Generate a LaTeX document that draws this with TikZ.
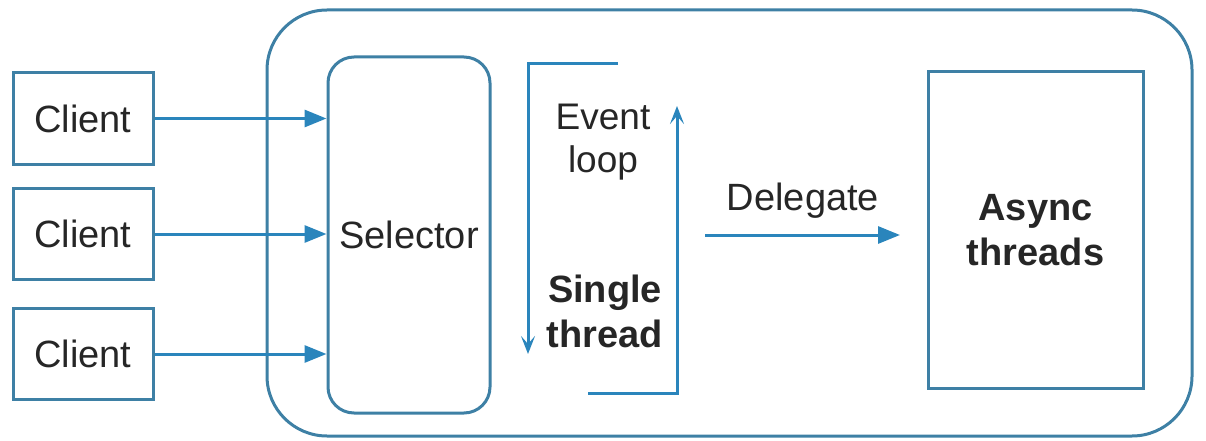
\documentclass[tikz,border=0pt]{standalone}
\usepackage{fontspec}
\setmainfont{Liberation Sans}
\usetikzlibrary{arrows.meta}
\definecolor{boxc}{RGB}{62,128,165}
\definecolor{arrc}{RGB}{42,133,188}
\begin{document}
\begin{tikzpicture}[x=1pt,y=-1pt,
  box/.style={draw=boxc,line width=3pt,inner sep=0pt},
  lbl/.style={font=\fontsize{38}{44}\selectfont,text=black!85,align=center},
  blbl/.style={font=\fontsize{38}{45}\selectfont\bfseries,text=black!85,align=center},
  conn/.style={draw=arrc,line width=3pt,-{Triangle[length=22pt,width=17pt]}},
  loopar/.style={draw=arrc,line width=3pt,-{Stealth[length=18pt,width=14pt,inset=8pt]}}]
\useasboundingbox (0,0) rectangle (1206,441);
% outer rounded container
\draw[boxc,line width=3pt,rounded corners=60pt] (267,10) rectangle (1192,436);
% clients
\node[box,minimum width=140pt,minimum height=91pt,lbl] (c1) at (83,118.5) {Client};
\node[box,minimum width=140pt,minimum height=91pt,lbl] (c2) at (83,234) {Client};
\node[box,minimum width=140pt,minimum height=91pt,lbl] (c3) at (83,354) {Client};
% selector
\node[box,rounded corners=26pt,minimum width=162pt,minimum height=356pt,lbl] (sel) at (409,235) {Selector};
\draw[conn] (c1.east) -- (sel.west |- c1.east);
\draw[conn] (c2.east) -- (sel.west |- c2.east);
\draw[conn] (c3.east) -- (sel.west |- c3.east);
% event loop bracket
\coordinate (ltop) at (618,64);
\coordinate (lcorner) at (528,64);
\coordinate (lend) at (528,354);
\coordinate (rstart) at (588,393);
\coordinate (rcorner) at (677,393);
\coordinate (rend) at (677,106);
\draw[loopar] (ltop) -- (lcorner) -- (lend);
\draw[loopar] (rstart) -- (rcorner) -- (rend);
\node[lbl,font=\fontsize{37}{43}\selectfont] (ev) at (603,142) {Event\\loop};
\node[blbl] (st) at (605,311) {Single\\thread};
% async
\node[box,minimum width=215pt,minimum height=316pt,blbl] (as) at (1035.5,230) {Async\\threads};
\coordinate (dstart) at (705,235);
\draw[conn] (dstart) -- (900,235) coordinate (dend);
\node[lbl] (dl) at (803,201) {Delegate};
\end{tikzpicture}
\end{document}
